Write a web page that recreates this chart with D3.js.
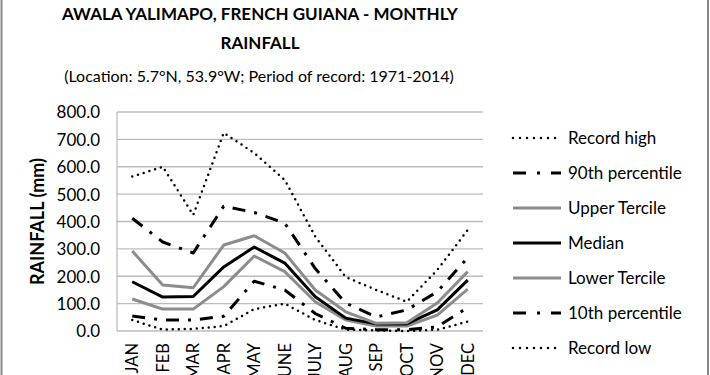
<!DOCTYPE html>
<html>
<head>
<meta charset="utf-8">
<script src="https://d3js.org/d3.v7.min.js"></script>
<style>
  body { margin: 0; background: #fff; }
  svg text { font-family: Lato, "Open Sans", sans-serif; fill: #000; }
</style>
</head>
<body>
<div id="chart"></div>
<script>
var months = ['JAN', 'FEB', 'MAR', 'APR', 'MAY', 'JUNE', 'JULY', 'AUG', 'SEP', 'OCT', 'NOV', 'DEC']
var yTicks = [0, 100, 200, 300, 400, 500, 600, 700, 800]

var recordHigh = [564, 600, 424, 724, 650, 552, 345, 197, 150, 107, 223, 369]
var pct90 = [412, 325, 285, 456, 433, 394, 228, 102, 51, 77, 143, 268]
var upperTercile = [292, 168, 158, 314, 348, 285, 150, 70, 28, 30, 102, 217]
var median = [180, 124, 126, 234, 307, 248, 125, 47, 26, 26, 77, 186]
var lowerTercile = [117, 80, 80, 162, 274, 217, 107, 40, 18, 18, 58, 153]
var pct10 = [55, 40, 40, 54, 182, 150, 64, 10, 5, 5, 15, 86]
var recordLow = [40, 5, 8, 18, 80, 100, 40, 5, 2, 0, 5, 34]

var series = [
  { name: 'Record high', values: recordHigh, color: '#000', width: 2.5, dash: '0,6', cap: 'round' },
  { name: '90th percentile', values: pct90, color: '#000', width: 3, dash: '13,9,3,9', cap: 'butt' },
  { name: 'Upper Tercile', values: upperTercile, color: '#8c8c8c', width: 3, dash: null, cap: 'butt' },
  { name: 'Median', values: median, color: '#000', width: 3, dash: null, cap: 'butt' },
  { name: 'Lower Tercile', values: lowerTercile, color: '#8c8c8c', width: 3, dash: null, cap: 'butt' },
  { name: '10th percentile', values: pct10, color: '#000', width: 3, dash: '13,9,3,9', cap: 'butt' },
  { name: 'Record low', values: recordLow, color: '#000', width: 2.5, dash: '0,6', cap: 'round' }
]

var width = 710
var height = 375
var margin = { top: 112, left: 117, right: 227, bottom: 44 }
var plotW = width - margin.left - margin.right
var plotH = height - margin.top - margin.bottom

var svg = d3.select('#chart').append('svg')
  .attr('width', width)
  .attr('height', height)

// outer frame
svg.append('rect')
  .attr('x', 1.5).attr('y', -5)
  .attr('width', width - 3.5).attr('height', height + 10)
  .attr('fill', 'none').attr('stroke', '#888').attr('stroke-width', 2)

// titles
svg.append('text').attr('x', 260).attr('y', 20)
  .attr('text-anchor', 'middle').attr('font-size', 17).attr('font-weight', 'bold')
  .text('AWALA YALIMAPO, FRENCH GUIANA - MONTHLY')
svg.append('text').attr('x', 260).attr('y', 49)
  .attr('text-anchor', 'middle').attr('font-size', 17).attr('font-weight', 'bold')
  .text('RAINFALL')
svg.append('text').attr('x', 259).attr('y', 82)
  .attr('text-anchor', 'middle').attr('font-size', 16)
  .text('(Location: 5.7°N, 53.9°W; Period of record: 1971-2014)')

var g = svg.append('g')
  .attr('transform', 'translate(' + margin.left + ',' + margin.top + ')')

var x = d3.scalePoint().domain(months).range([0, plotW]).padding(0.5)
var y = d3.scaleLinear().domain([0, 800]).range([plotH, 0])

// gridlines
g.append('g').selectAll('line').data(yTicks).join('line')
  .attr('x1', 0).attr('x2', plotW)
  .attr('y1', d => y(d)).attr('y2', d => y(d))
  .attr('stroke', '#bcbcbc').attr('stroke-width', 1.3)

g.append('line').attr('x1', 0).attr('x2', 0).attr('y1', 0).attr('y2', plotH)
  .attr('stroke', '#bcbcbc').attr('stroke-width', 1.3)

// y axis
var yAxis = g.append('g')
  .call(d3.axisLeft(y).tickValues(yTicks).tickSize(0).tickPadding(17).tickFormat(d3.format('.1f')))
yAxis.select('.domain').remove()
yAxis.selectAll('text').attr('font-size', 17).attr('dy', '0.35em').style('font-family', 'Lato, sans-serif')

svg.append('text')
  .attr('transform', 'translate(44,' + (margin.top + plotH / 2) + ') rotate(-90)')
  .attr('text-anchor', 'middle').attr('font-size', 18).attr('font-weight', 'bold')
  .text('RAINFALL (mm)')

// x axis labels
g.append('g').selectAll('text').data(months).join('text')
  .attr('transform', d => 'translate(' + (x(d) + 6) + ',' + (plotH + 12) + ') rotate(-90)')
  .attr('text-anchor', 'end').attr('font-size', 16.5)
  .text(d => d)

// lines
var line = d3.line()
  .x((d, i) => x(months[i]))
  .y(d => y(d))

g.append('g').selectAll('path').data(series.slice().reverse()).join('path')
  .attr('d', d => line(d.values))
  .attr('fill', 'none')
  .attr('stroke', d => d.color)
  .attr('stroke-width', d => d.width)
  .attr('stroke-dasharray', d => d.dash)
  .attr('stroke-linecap', d => d.cap)
  .attr('stroke-linejoin', 'round')

// legend
var legend = svg.append('g').attr('transform', 'translate(513,138)')
var item = legend.selectAll('g').data(series).join('g')
  .attr('transform', (d, i) => 'translate(0,' + i * 35 + ')')
item.append('line')
  .attr('x1', 0).attr('x2', 48).attr('y1', 0).attr('y2', 0)
  .attr('stroke', d => d.color)
  .attr('stroke-width', d => d.width)
  .attr('stroke-dasharray', d => d.dash ? (d.cap === 'round' ? '0,7' : '13,11,3,11') : null)
  .attr('stroke-linecap', d => d.cap)
item.append('text')
  .attr('x', 55).attr('y', 6)
  .attr('font-size', 17)
  .text(d => d.name)
</script>
</body>
</html>
